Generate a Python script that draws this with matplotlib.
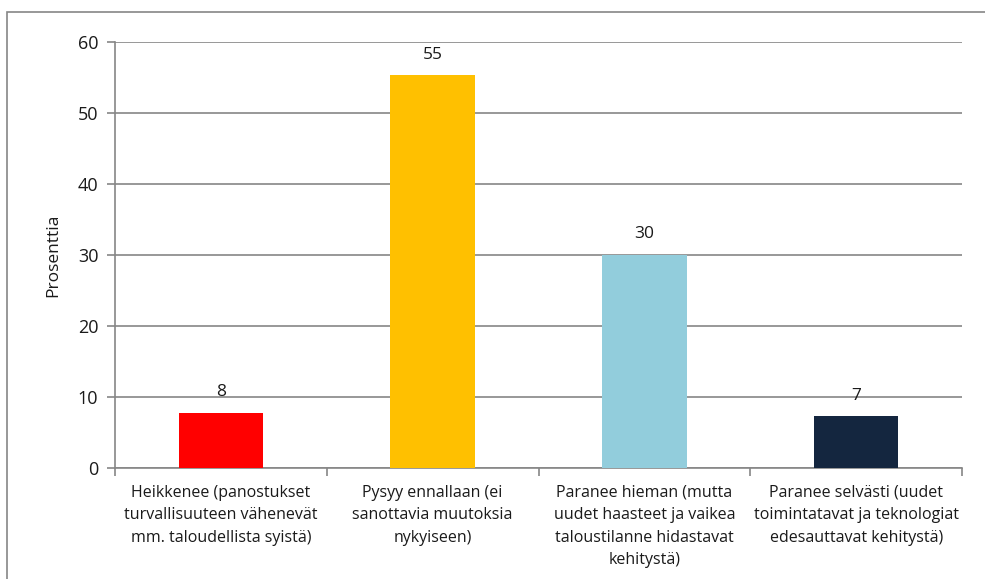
import matplotlib.pyplot as plt
from matplotlib.patches import Rectangle

plt.rcParams['font.family'] = ['Open Sans', 'DejaVu Sans']

# data
categories = [
    'Heikkenee (panostukset\nturvallisuuteen vähenevät\nmm. taloudellista syistä)',
    'Pysyy ennallaan (ei\nsanottavia muutoksia\nnykyiseen)',
    'Paranee hieman (mutta\nuudet haasteet ja vaikea\ntaloustilanne hidastavat\nkehitystä)',
    'Paranee selvästi (uudet\ntoimintatavat ja teknologiat\nedesauttavat kehitystä)',
]
values = [7.8, 55.3, 30.0, 7.3]
value_labels = ['8', '55', '30', '7']
colors = ['#FF0000', '#FFC000', '#92CDDC', '#14263F']

W, H = 985, 579
fig = plt.figure(figsize=(W / 100, H / 100), dpi=100)
ax = fig.add_axes([115 / W, 1 - 468 / H, (962 - 115) / W, (468 - 42) / H])

grey = '#868686'
x = list(range(len(categories)))
ax.bar(x, values, width=0.4, color=colors, zorder=3)
for xi, v, lab in zip(x, values, value_labels):
    ax.annotate(lab, (xi, v), xytext=(0, 9), textcoords='offset points',
                ha='center', va='bottom', fontsize=12.5, color='#1a1a1a')

ax.set_xlim(-0.5, len(categories) - 0.5)
ax.set_ylim(0, 60)
ax.set_yticks(range(0, 61, 10))
ax.yaxis.grid(True, color=grey, linewidth=1.2, zorder=0)
ax.set_axisbelow(True)

# category labels centred, ticks at the category boundaries
ax.set_xticks(x)
ax.set_xticklabels(categories, fontsize=11.5, color='#1a1a1a', linespacing=1.55)
ax.tick_params(axis='x', length=0, pad=12)
ax.set_xticks([i - 0.5 for i in range(len(categories) + 1)], minor=True)
ax.tick_params(axis='x', which='minor', length=6, color=grey, width=1.2)
ax.tick_params(axis='y', length=6, color=grey, width=1.2, labelsize=13,
               labelcolor='#1a1a1a', pad=6)

for s in ['top', 'right']:
    ax.spines[s].set_visible(False)
for s in ['left', 'bottom']:
    ax.spines[s].set_color(grey)
    ax.spines[s].set_linewidth(1.2)

ax.set_ylabel('Prosenttia', fontsize=12.5, color='#1a1a1a', labelpad=12)

# outer chart frame
fig.patches.append(Rectangle((7 / W, -0.1), 1.2, 1 - 12 / H + 0.1,
                             transform=fig.transFigure, fill=False,
                             edgecolor=grey, linewidth=1.2))

fig.savefig('out.png', dpi=100)
